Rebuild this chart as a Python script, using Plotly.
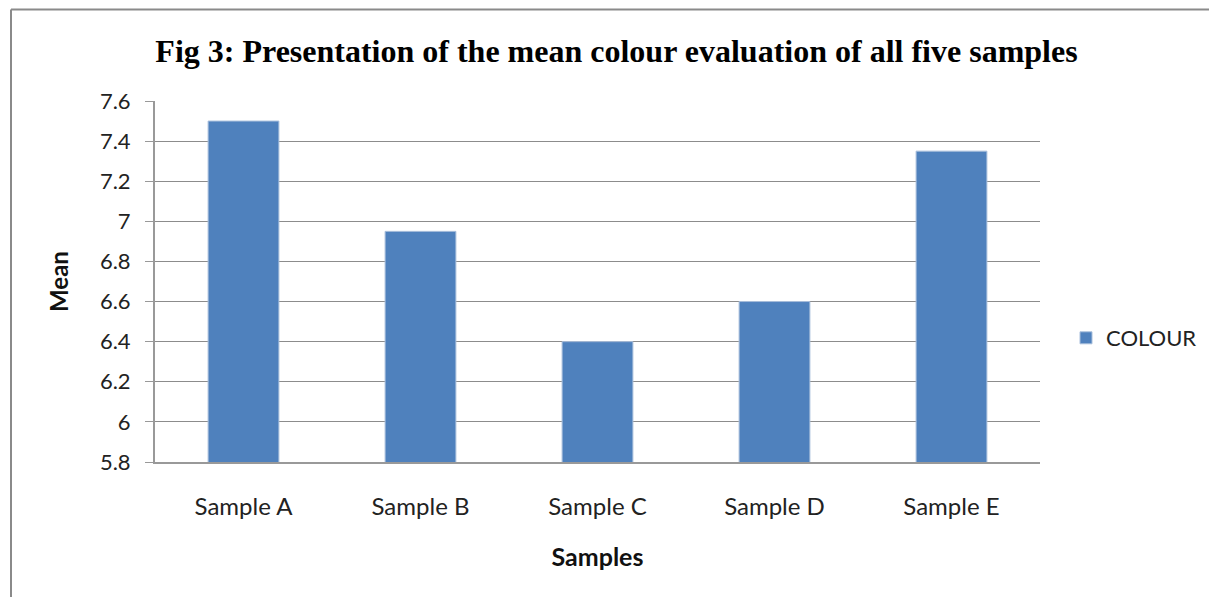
import plotly.graph_objects as go

categories = ["Sample A", "Sample B", "Sample C", "Sample D", "Sample E"]
colour_means = [7.5, 6.95, 6.4, 6.6, 7.35]
y_ticks = [5.8, 6.0, 6.2, 6.4, 6.6, 6.8, 7.0, 7.2, 7.4, 7.6]
y_tick_labels = ["5.8", "6", "6.2", "6.4", "6.6", "6.8", "7", "7.2", "7.4", "7.6"]

W, H = 1209, 597
L, T = 155, 101
R = W - 1040
B = H - 462
PW, PH = W - L - R, H - T - B

def px(xw):
    return (xw - L) / PW

def py(yw):
    return (H - B - yw) / PH

fig = go.Figure()
fig.add_trace(go.Bar(
    x=categories, y=colour_means, name="COLOUR",
    marker=dict(color="#4F81BD", line=dict(color="#a9bfdc", width=1)),
))

fig.update_layout(
    width=W, height=H,
    margin=dict(l=L, r=R, t=T, b=B, autoexpand=False),
    paper_bgcolor="white", plot_bgcolor="white",
    bargap=0.6,
    showlegend=True,
    font=dict(family="Lato, Open Sans, sans-serif", size=22, color="#222"),
    title=dict(
        text="<b>Fig 3: Presentation of the mean colour evaluation of all five samples</b>",
        font=dict(family="Liberation Serif, Times New Roman, serif", size=32, color="black"),
        x=((155 + 1078) / 2) / W, xanchor="center", xref="container",
        y=1 - 51 / H, yanchor="middle", yref="container",
    ),
    legend=dict(
        x=px(1066), xanchor="left", y=py(338), yanchor="middle",
        font=dict(family="Lato, Open Sans, sans-serif", size=22, color="#222"),
        itemwidth=30,
    ),
    xaxis=dict(
        showgrid=False, showline=True, linecolor="#999", linewidth=2,
        ticks="", tickfont=dict(size=24, color="#222"),
        ticklabelstandoff=22,
        title=dict(text="<b>Samples</b>", font=dict(size=25, color="#111"), standoff=30),
    ),
    yaxis=dict(
        range=[5.8, 7.6], tickvals=y_ticks, ticktext=y_tick_labels,
        showgrid=True, gridcolor="#8c8c8c", gridwidth=1,
        showline=True, linecolor="#999", linewidth=2,
        ticks="outside", ticklen=8, tickcolor="#999", tickwidth=1,
        ticklabelstandoff=10,
        tickfont=dict(size=22, color="#222"),
        title=dict(text="<b>Mean</b>", font=dict(size=24, color="#111"), standoff=24),
        zeroline=False,
    ),
    shapes=[
        dict(type="line", xref="paper", yref="paper",
             x0=px(11), x1=px(1209), y0=py(9.5), y1=py(9.5),
             line=dict(color="#8a8a8a", width=2)),
        dict(type="line", xref="paper", yref="paper",
             x0=px(11), x1=px(11), y0=py(9.5), y1=py(597),
             line=dict(color="#8a8a8a", width=2)),
    ],
)

fig.write_html(
    "out.html",
    config={"displayModeBar": False},
    post_script="document.body.style.margin='0';document.body.style.overflow='hidden';",
)
